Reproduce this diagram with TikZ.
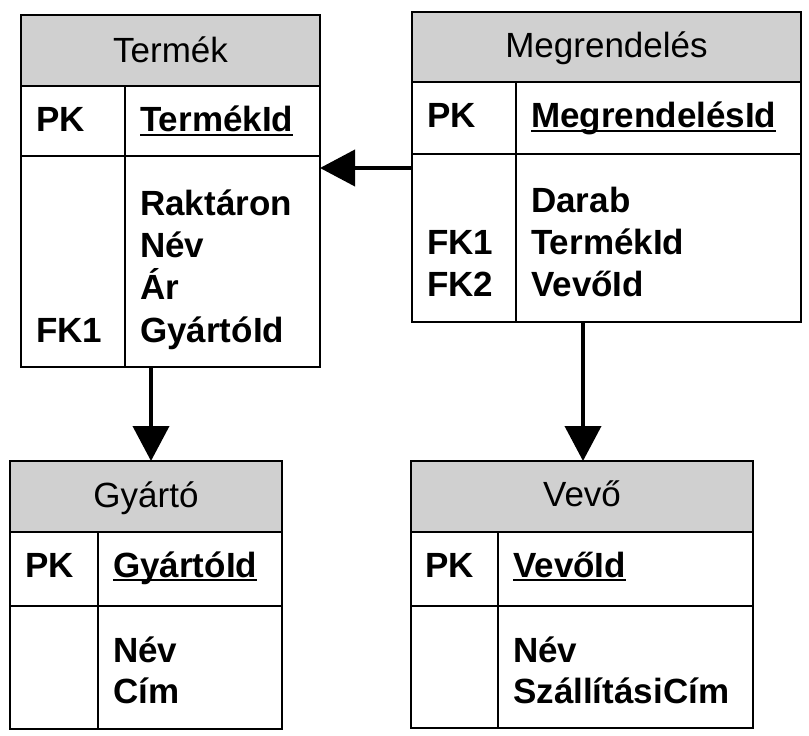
\documentclass[tikz,border=0pt]{standalone}
\usepackage{fontspec}
\setmainfont{Liberation Sans}
\usetikzlibrary{arrows.meta}
\definecolor{hdrgray}{RGB}{208,208,208}
\tikzset{
  ent/.style={draw, line width=2.5pt, inner sep=0pt, outer sep=0pt, anchor=north west},
  hdr/.style={ent, fill=hdrgray},
  sep/.style={line width=2.5pt},
  title/.style={font=\fontsize{35}{42}\selectfont, anchor=base, inner sep=0pt},
  fld/.style={font=\bfseries\fontsize{35}{42}\selectfont, anchor=base west, inner sep=0pt},
  ulin/.style={line width=2pt},
  rel/.style={line width=4pt, -{Triangle[length=35pt,width=36pt]}}
}
\begin{document}
\begin{tikzpicture}[x=1pt,y=-1pt]
\useasboundingbox (0,0) rectangle (809,736);

% ---------------- Termék
\node[ent, minimum width=299pt, minimum height=352pt] (termek) at (21,15) {};
\node[hdr, minimum width=299pt, minimum height=71pt] (termekH) at (21,15) {};
\draw[sep] (21,156) -- (320,156);
\draw[sep] (125,86) -- (125,367);
\node[title] (termekT) at (170.5,62) {Termék};
\node[fld] (termekPK) at (36,131) {PK};
\node[fld] (termekId) at (140,131) {TermékId};
\draw[ulin] ([yshift=-4pt]termekId.base west) -- ([yshift=-4pt]termekId.base east);
\node[fld] (termekF1) at (140,215) {Raktáron};
\node[fld] (termekF2) at (140,257) {Név};
\node[fld] (termekF3) at (140,299) {Ár};
\node[fld] (termekF4) at (140,342) {GyártóId};
\node[fld] (termekK1) at (36,342) {FK1};

% ---------------- Megrendelés
\node[ent, minimum width=389pt, minimum height=310pt] (meg) at (412,12) {};
\node[hdr, minimum width=389pt, minimum height=70pt] (megH) at (412,12) {};
\draw[sep] (412,154) -- (801,154);
\draw[sep] (516,82) -- (516,322);
\node[title] (megT) at (606.5,57) {Megrendelés};
\node[fld] (megPK) at (427,127) {PK};
\node[fld] (megId) at (531,127) {MegrendelésId};
\draw[ulin] ([yshift=-4pt]megId.base west) -- ([yshift=-4pt]megId.base east);
\node[fld] (megF1) at (531,212) {Darab};
\node[fld] (megF2) at (531,254) {TermékId};
\node[fld] (megF3) at (531,296) {VevőId};
\node[fld] (megK1) at (427,254) {FK1};
\node[fld] (megK2) at (427,296) {FK2};

% ---------------- Gyártó
\node[ent, minimum width=272pt, minimum height=268pt] (gyarto) at (10,461) {};
\node[hdr, minimum width=272pt, minimum height=71pt] (gyartoH) at (10,461) {};
\draw[sep] (10,606) -- (282,606);
\draw[sep] (98,532) -- (98,729);
\node[title] (gyartoT) at (146,507) {Gyártó};
\node[fld] (gyartoPK) at (25,577) {PK};
\node[fld] (gyartoId) at (113,577) {GyártóId};
\draw[ulin] ([yshift=-3pt]gyartoId.base west) -- ([yshift=-3pt]gyartoId.base east);
\node[fld] (gyartoF1) at (113,662) {Név};
\node[fld] (gyartoF2) at (113,703) {Cím};

% ---------------- Vevő
\node[ent, minimum width=342pt, minimum height=267pt] (vevo) at (411,461) {};
\node[hdr, minimum width=342pt, minimum height=71pt] (vevoH) at (411,461) {};
\draw[sep] (411,606) -- (753,606);
\draw[sep] (498,532) -- (498,728);
\node[title] (vevoT) at (582,506) {Vevő};
\node[fld] (vevoPK) at (425,577) {PK};
\node[fld] (vevoId) at (513,577) {VevőId};
\draw[ulin] ([yshift=-3pt]vevoId.base west) -- ([yshift=-3pt]vevoId.base east);
\node[fld] (vevoF1) at (513,662) {Név};
\node[fld] (vevoF2) at (513,703) {SzállításiCím};

% ---------------- relations
\draw[rel] (meg.west |- 0,168) -- (termek.east |- 0,168);
\draw[rel] (termek.south -| 151,0) -- (gyartoH.north -| 151,0);
\draw[rel] (meg.south -| 583,0) -- (vevoH.north -| 583,0);
\end{tikzpicture}
\end{document}
